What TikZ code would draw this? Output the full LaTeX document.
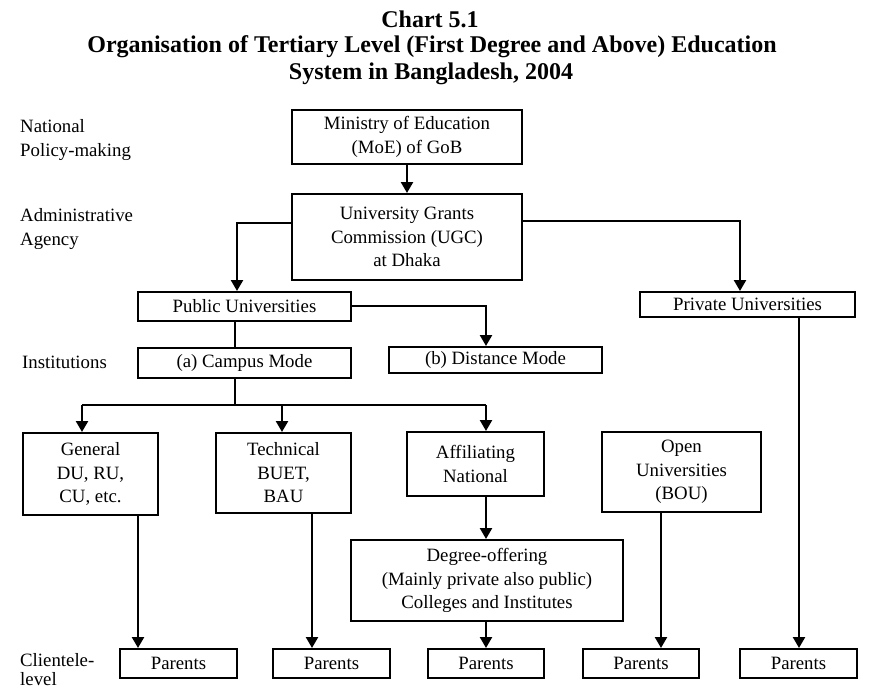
\documentclass[tikz,border=0pt]{standalone}
\usepackage{fontspec}
\setmainfont{Liberation Serif}
\usetikzlibrary{arrows.meta}
\newcommand\bodyfnt{\fontsize{18.8}{23.5}\selectfont}
\newcommand\titlefnt{\fontsize{24}{26}\selectfont\bfseries}
\begin{document}
\begin{tikzpicture}[x=1pt,y=-1pt,
  box/.style={draw, line width=2pt, inner sep=0pt, align=center, font=\bodyfnt},
  arr/.style={line width=2.4pt, -{Triangle[width=12pt,length=11pt]}},
  ln/.style={line width=2.4pt},
  lab/.style={anchor=west, align=left, inner sep=0pt, font=\bodyfnt},
  ttl/.style={inner sep=0pt, font=\titlefnt}]
\fill[white] (0,0) rectangle (884,689);
\useasboundingbox (0,0) rectangle (884,689);

% title
\node[ttl] (t1) at (430,19) {Chart 5.1};
\node[ttl] (t2) at (432,47) {Organisation of Tertiary Level (First Degree and Above) Education};
\node[ttl] (t3) at (431,74) {System in Bangladesh, 2004};

% left labels
\node[lab] (l1) at (20,140) {National\\Policy-making};
\node[lab] (l2) at (20,229) {Administrative\\Agency};
\node[lab] (l3) at (22,362) {Institutions};
\node[lab] (l4) at (20,670) {Clientele-\\[-4.5pt]level};

% boxes
\node[box, minimum width=230pt, minimum height=54pt] (moe) at (407,137) {Ministry of Education\\(MoE) of GoB};
\node[box, minimum width=230pt, minimum height=86pt] (ugc) at (407,237) {University Grants\\Commission (UGC)\\at Dhaka};
\node[box, minimum width=213pt, minimum height=29pt] (pub) at (244.5,306.5) {Public Universities};
\node[box, minimum width=215pt, minimum height=25pt] (priv) at (747.5,304.5) {Private Universities};
\node[box, minimum width=213pt, minimum height=30pt] (camp) at (244.5,363) {(a) Campus Mode};
\node[box, minimum width=213pt, minimum height=26pt] (dist) at (495.5,360) {(b) Distance Mode};
\node[box, minimum width=135pt, minimum height=82pt] (gen) at (90.5,474) {General\\DU, RU,\\CU, etc.};
\node[box, minimum width=135pt, minimum height=80pt] (tech) at (283.5,473) {Technical\\BUET,\\BAU};
\node[box, minimum width=137pt, minimum height=64pt] (aff) at (475.5,464) {Affiliating\\National};
\node[box, minimum width=159pt, minimum height=80pt] (open) at (681.5,472) {Open\\Universities\\(BOU)};
\node[box, minimum width=272pt, minimum height=81pt] (deg) at (487,580.5) {Degree-offering\\(Mainly private also public)\\Colleges and Institutes};
\node[box, minimum width=117pt, minimum height=29pt] (p1) at (178.5,663.5) {Parents};
\node[box, minimum width=117pt, minimum height=29pt] (p2) at (331.5,663.5) {Parents};
\node[box, minimum width=116pt, minimum height=29pt] (p3) at (486,663.5) {Parents};
\node[box, minimum width=116pt, minimum height=29pt] (p4) at (641,663.5) {Parents};
\node[box, minimum width=117pt, minimum height=29pt] (p5) at (798.5,663.5) {Parents};

% junction coordinates
\coordinate (cu1) at (237,223);
\coordinate (cu2) at (740,221);
\coordinate (cp1) at (486,306);
\coordinate (bus) at (235,405);

% connectors
\draw[arr] (moe.south) -- (ugc.north);
\draw[arr] (ugc.west |- cu1) -| (cu1 |- pub.north);
\draw[arr] (ugc.east |- cu2) -| (cu2 |- priv.north);
\draw[arr] (pub.east |- cp1) -| (cp1 |- dist.north);
\draw[ln] (bus |- pub.south) -- (bus |- camp.north);
\draw[ln] (bus |- camp.south) -- (bus);
\coordinate (b1) at (82,405);
\coordinate (b2) at (282,405);
\coordinate (b3) at (486,405);
\draw[ln] (b1) -- (b3);
\draw[arr] (b1) -- (b1 |- gen.north);
\draw[arr] (b2) -- (b2 |- tech.north);
\draw[arr] (b3) -- (b3 |- aff.north);
\coordinate (x1) at (138,0);
\coordinate (x2) at (312,0);
\coordinate (x3) at (486,0);
\coordinate (x4) at (661,0);
\coordinate (x5) at (799,0);
\draw[arr] (x1 |- gen.south) -- (x1 |- p1.north);
\draw[arr] (x2 |- tech.south) -- (x2 |- p2.north);
\draw[arr] (x3 |- aff.south) -- (x3 |- deg.north);
\draw[arr] (x3 |- deg.south) -- (x3 |- p3.north);
\draw[arr] (x4 |- open.south) -- (x4 |- p4.north);
\draw[arr] (x5 |- priv.south) -- (x5 |- p5.north);
\end{tikzpicture}
\end{document}
